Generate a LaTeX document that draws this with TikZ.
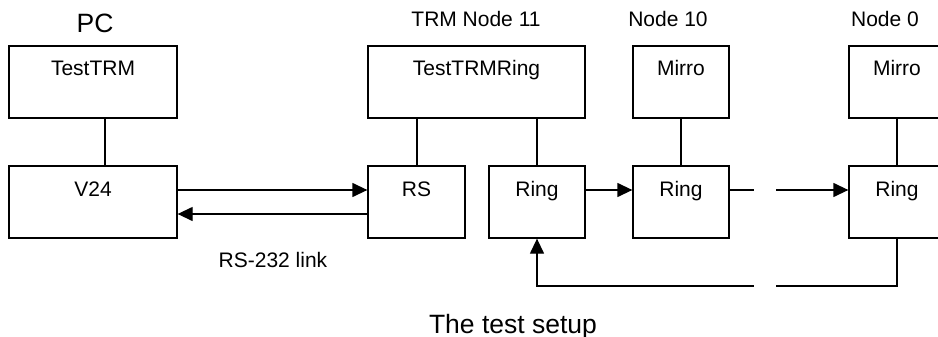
\documentclass[tikz,border=0pt]{standalone}
\usepackage{fontspec}
\setmainfont{Liberation Sans}
\usetikzlibrary{arrows.meta}
\begin{document}
\begin{tikzpicture}[x=1pt,y=-1pt,
  box/.style={draw, line width=1.3pt, inner sep=0pt, text height=30pt, text depth=42pt,
    font=\fontsize{21}{25}\selectfont},
  lbl/.style={anchor=base, inner sep=0pt, font=\fontsize{21}{25}\selectfont},
  biglbl/.style={anchor=base, inner sep=0pt, font=\fontsize{26.5}{30}\selectfont},
  conn/.style={line width=1.3pt},
  arr/.style={line width=1.3pt, -{Triangle[length=15pt,width=14pt]}}]
\useasboundingbox (0,0) rectangle (938,337);
\clip (0,0) rectangle (938,337);
% boxes
\node[box, minimum width=168pt] (testtrm) at (93,82) {TestTRM};
\node[box, minimum width=168pt] (v24) at (93,202) {V24};
\node[box, minimum width=97pt] (rs) at (416.5,202) {RS};
\node[box, minimum width=217pt] (trmring) at (476.5,82) {TestTRMRing};
\node[box, minimum width=96pt] (ring1) at (537,202) {Ring};
\node[box, minimum width=96pt] (mirro10) at (681,82) {Mirro};
\node[box, minimum width=96pt] (ring10) at (681,202) {Ring};
\node[box, minimum width=96pt] (mirro0) at (897,82) {Mirro};
\node[box, minimum width=96pt] (ring0) at (897,202) {Ring};
% labels
\node[biglbl] (pc) at (95,32.3) {PC};
\node[lbl] (trm11) at (476,27) {TRM Node 11};
\node[lbl] (n10) at (668,27) {Node 10};
\node[lbl] (n0) at (885,27) {Node 0};
\node[lbl] (link) at (273,267) {RS-232 link};
\node[biglbl] (title) at (513,333) {The test setup};
% vertical links
\draw[conn] ([xshift=12pt]testtrm.south) -- ([xshift=12pt]v24.north);
\draw[conn] ([xshift=0.5pt]rs.north) -- ([xshift=0.5pt]rs.north |- trmring.south);
\draw[conn] (ring1.north) -- (ring1.north |- trmring.south);
\draw[conn] (mirro10.south) -- (ring10.north);
\draw[conn] (mirro0.south) -- (ring0.north);
% RS-232
\draw[arr] ([yshift=12pt]v24.east) -- ([yshift=12pt]rs.west);
\draw[arr] ([yshift=-12pt]rs.west) -- ([yshift=-12pt]v24.east);
% ring
\coordinate (ga) at (753.7,190);
\coordinate (gb) at (776,190);
\coordinate (fa) at (753.7,286);
\coordinate (fb) at (776,286);
\draw[arr] ([yshift=12pt]ring1.east) -- ([yshift=12pt]ring10.west);
\draw[conn] ([yshift=12pt]ring10.east) -- (ga);
\draw[arr] (gb) -- (gb -| ring0.west);
\draw[conn] (ring0.south) -- (ring0.south |- fb) -- (fb);
\draw[arr] (fa) -- (ring1.south |- fa) -- (ring1.south);
\end{tikzpicture}
\end{document}
